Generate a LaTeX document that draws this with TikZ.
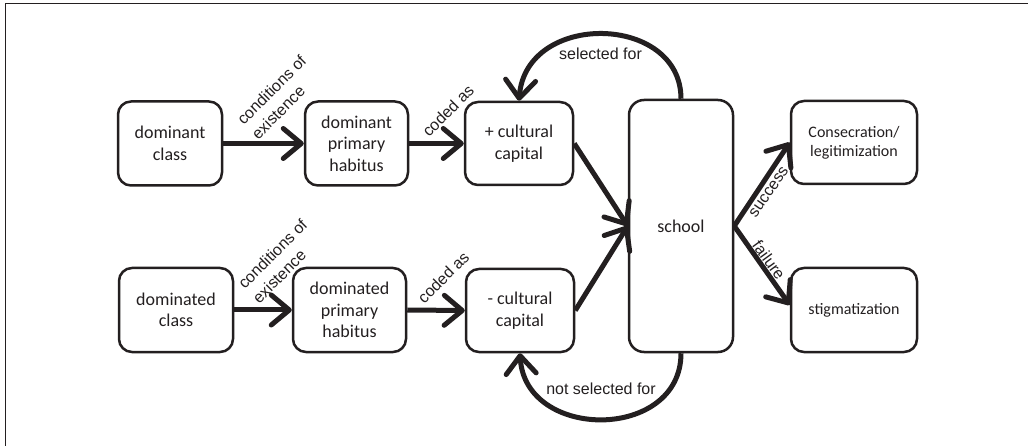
\documentclass[tikz,border=0pt]{standalone}
\usepackage{fontspec}
\setmainfont{Carlito}
\newfontfamily\labelfont{Liberation Sans}
\usetikzlibrary{arrows.meta,calc}
\definecolor{ink}{RGB}{35,31,32}
\begin{document}
\begin{tikzpicture}[x=1pt,y=-1pt,
  box/.style={draw=ink, line width=2.5pt, rounded corners=13pt, text=ink,
    font=\fontsize{18}{21.5}\selectfont, align=center, inner sep=0pt},
  sbox/.style={box, font=\fontsize{16}{19}\selectfont},
  conn/.style={draw=ink, line width=5pt, -{Straight Barb[length=18pt,width=30pt,round]}},
  lbl/.style={text=ink, font=\labelfont\fontsize{16}{20.5}\selectfont, inner sep=0pt},
]
\useasboundingbox (0,0) rectangle (1028,446);
\draw[ink, line width=1.5pt] (5.5,446) -- (5.5,3.5) -- (1028,3.5);

\node[box, minimum width=104pt, minimum height=84pt] (dc) at (170,143.5) {dominant\\class};
\node[box, minimum width=103pt, minimum height=84pt] (dph) at (356.5,143.5) {dominant\\primary\\habitus};
\node[box, minimum width=108pt, minimum height=83pt] (pcc) at (519,143.5) {+ cultural\\capital};
\node[box, minimum width=104pt, minimum height=252pt, rounded corners=15pt] (school) at (681,226) {school};
\node[sbox, minimum width=126pt, minimum height=83pt] (cons) at (854,142.5) {Consecration/\\legitimization};

\node[box, minimum width=114pt, minimum height=84pt] (dmc) at (176,310) {dominated\\class};
\node[box, minimum width=113pt, minimum height=84pt] (dmph) at (349.5,310) {dominated\\primary\\habitus};
\node[box, minimum width=108pt, minimum height=83pt] (mcc) at (520,310.5) {- cultural\\capital};
\node[sbox, minimum width=126pt, minimum height=84pt] (stig) at (854,310) {stigmatization};

\draw[conn] (dc.east) -- (dph.west);
\draw[conn] (dph.east) -- (pcc.west);
\draw[conn] (dmc.east) -- (dmph.west);
\draw[conn] (dmph.east) -- (mcc.west);
\draw[conn] (pcc.east) -- (school.west);
\draw[conn] (mcc.east) -- (school.west);
\draw[conn] (school.east) -- (cons.west);
\draw[conn] (school.east) -- ($(stig.west)+(0,-5)$);
\draw[conn] (school.north) .. controls +(0,-85) and +(7,-90) .. (pcc.north);
\draw[conn] (school.south) .. controls +(0,88) and +(5,88) .. (mcc.south);

\node[lbl, rotate=45, align=left] (l1) at (278.75,97.25) {conditions of\\existence};
\node[lbl, rotate=45, align=left] (l2) at (279.75,261.25) {conditions of\\existence};
\node[lbl, rotate=45] (l3) at (448,110.8) {coded as};
\node[lbl, rotate=45] (l4) at (443.3,277.5) {coded as};
\node[lbl] (l5) at (600.5,53.5) {selected for};
\node[lbl] (l6) at (601,389) {not selected for};
\node[lbl, rotate=55] (l7) at (769,192) {success};
\node[lbl, rotate=-54] (l8) at (769,260) {failure};
\end{tikzpicture}
\end{document}
